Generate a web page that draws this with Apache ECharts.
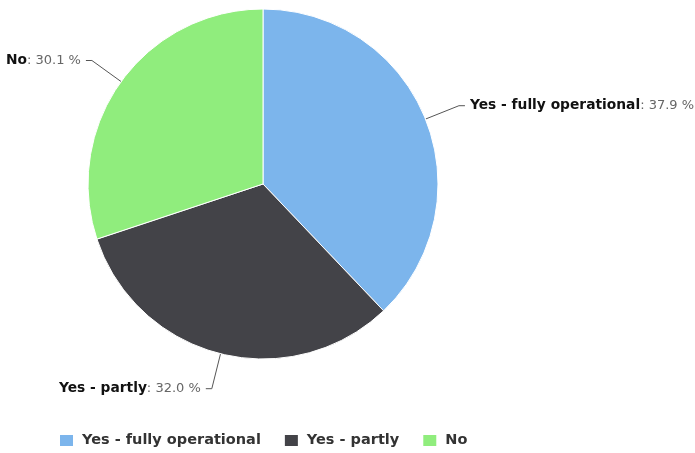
<!DOCTYPE html>
<html>
<head>
<meta charset="utf-8">
<script src="https://cdn.jsdelivr.net/npm/echarts@6/dist/echarts.min.js"></script>
<style>
  html, body { margin: 0; padding: 0; background: #fff; }
  #chart { width: 695px; height: 453px; }
</style>
</head>
<body>
<div id="chart"></div>
<script>
// Share of respondents by operational status
const categories = ['Yes - fully operational', 'Yes - partly', 'No'];
const shares = [37.9, 32.0, 30.1];
const colors = ['#7cb5ec', '#434348', '#90ed7d'];

const chart = echarts.init(document.getElementById('chart'));

const data = categories.map((name, i) => ({
  name,
  value: shares[i],
  itemStyle: { color: colors[i] }
}));

chart.setOption({
  animation: false,
  legend: {
    top: 428,
    left: 53,
    itemWidth: 15,
    itemHeight: 13,
    itemGap: 22,
    icon: 'rect',
    textStyle: {
      fontFamily: 'DejaVu Sans', fontWeight: 'bold', fontSize: 14.5, color: '#333',
      padding: [0, 0, 0, 3]
    },
    data: categories
  },
  series: [{
    type: 'pie',
    left: 0,
    right: -150,
    center: [263, 184],
    radius: [0, 175],
    startAngle: 90,
    clockwise: true,
    itemStyle: { borderColor: '#fff', borderWidth: 1 },
    label: {
      show: true,
      position: 'outside',
      overflow: 'none',
      bleedMargin: 0,
      formatter: p => '{b|' + p.name + '}{v|: ' + p.value.toFixed(1) + ' %}',
      rich: {
        b: { fontFamily: 'DejaVu Sans', fontWeight: 'bold', fontSize: 13.8, color: '#111' },
        v: { fontFamily: 'DejaVu Sans', fontSize: 13, color: '#666' }
      }
    },
    labelLine: {
      show: true,
      length: 36,
      length2: 6,
      lineStyle: { color: '#555', width: 1 }
    },
    data
  }]
});
</script>
</body>
</html>
